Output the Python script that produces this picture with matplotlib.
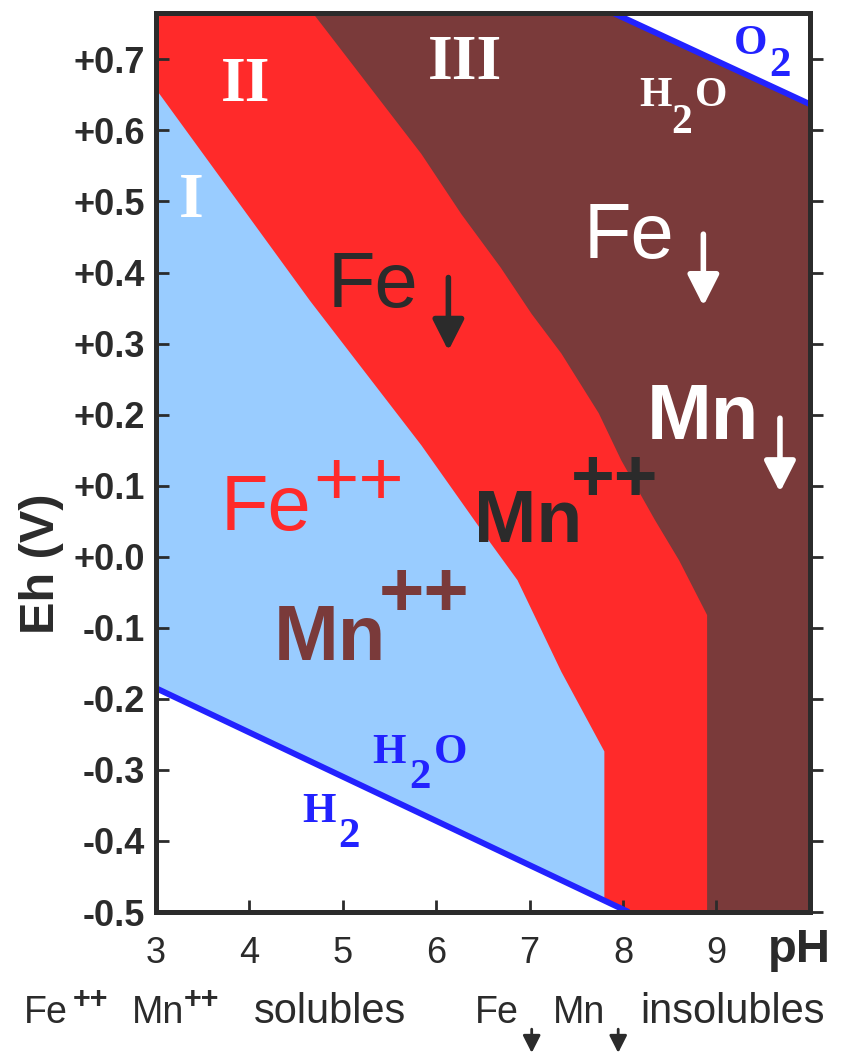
import matplotlib
matplotlib.use('Agg')
import matplotlib.pyplot as plt
import numpy as np

plt.rcParams['font.family'] = ['Liberation Sans', 'DejaVu Sans']
SERIF = ['Liberation Serif', 'DejaVu Serif']

# axis ranges
ph_min, ph_max = 3.0, 10.0
eh_min, eh_max = -0.5, 0.765

# boundary I / II  (Fe++ soluble -> Fe insoluble)
b12_ph = [3.0, 4.65, 5.84, 6.55, 6.87, 7.34, 7.80, 7.80]
b12_eh = [0.658, 0.36, 0.157, 0.025, -0.033, -0.162, -0.274, -0.5]

# boundary II / III  (Mn++ soluble -> Mn insoluble)
b23_ph = [4.68, 5.84, 6.27, 6.69, 7.02, 7.34, 7.74, 7.98, 8.34, 8.60, 8.90, 8.90]
b23_eh = [0.765, 0.567, 0.482, 0.407, 0.342, 0.286, 0.202, 0.136, 0.052, -0.005, -0.082, -0.5]

# water stability limits
h2_ph = [3.0, 8.06]
h2_eh = [-0.185, -0.5]
o2_ph = [7.90, 10.0]
o2_eh = [0.765, 0.637]

ph_ticks = [3, 4, 5, 6, 7, 8, 9]
eh_ticks = [0.7, 0.6, 0.5, 0.4, 0.3, 0.2, 0.1, 0.0, -0.1, -0.2, -0.3, -0.4, -0.5]
eh_labels = ['+0.7', '+0.6', '+0.5', '+0.4', '+0.3', '+0.2', '+0.1', '+0.0',
             '-0.1', '-0.2', '-0.3', '-0.4', '-0.5']

BLUE_ZONE = '#99CCFF'
RED = '#FF2A2A'
BROWN = '#7A3A3A'
LINE_BLUE = '#2222FF'
DARK = '#2B2B2B'

fig = plt.figure(figsize=(8.48, 10.55), dpi=100)
ax = fig.add_axes([0.184, 0.1355, 0.771, 0.852])
ax.set_xlim(ph_min, ph_max)
ax.set_ylim(eh_min, eh_max)
ax.set_facecolor(BROWN)

# zone II (red) everything left of the II/III boundary
ax.fill(np.r_[b23_ph, ph_min, ph_min], np.r_[b23_eh, eh_min, eh_max], color=RED, lw=0)
# zone I (light blue)
ax.fill(np.r_[b12_ph, ph_min], np.r_[b12_eh, eh_min], color=BLUE_ZONE, lw=0)
# outside water stability
ax.fill(np.r_[h2_ph, ph_min], np.r_[h2_eh, eh_min], color='white', lw=0)
ax.fill(np.r_[o2_ph, ph_max], np.r_[o2_eh, eh_max], color='white', lw=0)
ax.plot(h2_ph, h2_eh, color=LINE_BLUE, lw=4.3, solid_capstyle='butt')
ax.plot(o2_ph, o2_eh, color=LINE_BLUE, lw=4.3, solid_capstyle='butt')

# zone numbers
ax.text(3.24, 0.478, 'I', color='white', family=SERIF, weight='bold', fontsize=46)
ax.text(3.69, 0.641, 'II', color='white', family=SERIF, weight='bold', fontsize=46)
ax.text(5.91, 0.672, 'III', color='white', family=SERIF, weight='bold', fontsize=46)

# water labels
def chem(x, y, parts, color, fs):
    # parts: list of (text, dx, dy) offsets in data units
    for s, dx, dy in parts:
        ax.text(x + dx, y + dy, s, color=color, family=SERIF, weight='bold', fontsize=fs)

chem(8.17, 0.634, [('H', 0, 0), ('2', 0.35, -0.038), ('O', 0.60, 0)], 'white', 30)
chem(9.19, 0.707, [('O', 0, 0), ('2', 0.38, -0.030)], LINE_BLUE, 31)
chem(5.32, -0.290, [('H', 0, 0), ('2', 0.39, -0.035), ('O', 0.66, 0)], LINE_BLUE, 31)
chem(4.57, -0.373, [('H', 0, 0), ('2', 0.38, -0.035)], LINE_BLUE, 31)

# species labels
ax.text(3.69, 0.0375, 'Fe', color=RED, fontsize=56)
ax.text(4.68, 0.073, '++', color=RED, fontsize=56)
ax.text(4.26, -0.145, 'Mn', color=BROWN, fontsize=56, weight='bold')
ax.text(5.38, -0.084, '++', color=BROWN, fontsize=56, weight='bold')
ax.text(4.84, 0.351, 'Fe', color=DARK, fontsize=56)
ax.text(6.40, 0.0206, 'Mn', color=DARK, fontsize=54, weight='bold')
ax.text(7.44, 0.078, '++', color=DARK, fontsize=54, weight='bold')
ax.text(7.58, 0.421, 'Fe', color='white', fontsize=56)
ax.text(8.25, 0.166, 'Mn', color='white', fontsize=56, weight='bold')


def down_arrow(x, y0, y1, color, coords='data', lw=4, scale=25):
    ax.annotate('', xy=(x, y1), xytext=(x, y0), xycoords=coords, textcoords=coords,
                arrowprops=dict(arrowstyle='-|>,head_length=0.75,head_width=0.38',
                                color=color, lw=lw, shrinkA=0, shrinkB=0,
                                mutation_scale=scale))


down_arrow(6.13, 0.393, 0.290, DARK)
down_arrow(8.86, 0.454, 0.353, 'white')
down_arrow(9.68, 0.195, 0.091, 'white')

# axes styling
for side in ['left', 'bottom', 'right', 'top']:
    ax.spines[side].set_linewidth(3.6)
    ax.spines[side].set_color(DARK)
ax.set_xticks(ph_ticks)
ax.set_xticklabels([str(t) for t in ph_ticks], fontsize=26, color=DARK)
ax.set_yticks(eh_ticks)
ax.set_yticklabels(eh_labels, fontsize=26, fontweight='bold', color=DARK)
ax.tick_params(axis='both', direction='in', length=9, width=2, color=DARK)
ax.tick_params(axis='x', pad=17)
ax.tick_params(axis='y', pad=8)

sec = ax.secondary_yaxis('right')
sec.set_yticks(eh_ticks)
sec.tick_params(direction='out', length=9, width=2, color=DARK, labelright=False)
sec.spines['right'].set_visible(False)

fig.text(0.0495, 0.466, 'Eh (V)', rotation=90, ha='center', va='center',
         fontsize=35, weight='bold', color=DARK)
fig.text(0.906, 0.088, 'pH', fontsize=34, weight='bold', color=DARK)

# bottom legend line
fs_b, fs_w, fs_sup = 27, 30, 22
y_base, y_sup = 0.030, 0.0445
fig.text(0.0283, y_base, 'Fe', fontsize=fs_b, color=DARK)
fig.text(0.0861, y_sup, '++', fontsize=fs_sup, weight='bold', color=DARK)
fig.text(0.1557, y_base, 'Mn', fontsize=fs_b, color=DARK)
fig.text(0.217, y_sup, '++', fontsize=fs_sup, weight='bold', color=DARK)
fig.text(0.2995, y_base, 'solubles', fontsize=fs_w, color=DARK)
fig.text(0.560, y_base, 'Fe', fontsize=fs_b, color=DARK)
fig.text(0.652, y_base, 'Mn', fontsize=fs_b, color=DARK)
fig.text(0.755, y_base, 'insolubles', fontsize=fs_w, color=DARK)
down_arrow(0.627, 0.0245, 0.002, DARK, coords='figure fraction', lw=2, scale=14)
down_arrow(0.729, 0.0245, 0.002, DARK, coords='figure fraction', lw=2, scale=14)

fig.savefig('out.png', dpi=100)
